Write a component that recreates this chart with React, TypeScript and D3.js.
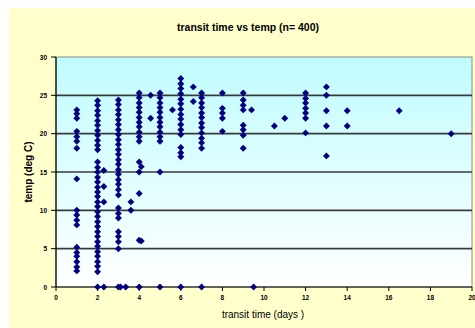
import React from "react";
import * as d3 from "d3";

const chartTitle = "transit time vs temp (n= 400)";
const xLabel = "transit time (days )";
const yLabel = "temp (deg C)";
const xTicks = [0, 2, 4, 6, 8, 10, 12, 14, 16, 18, 20];
const yTicks = [0, 5, 10, 15, 20, 25, 30];

// transit time (days) for each column of points
const columnDays = [1, 2, 2.3, 3, 3.1, 3.35, 3.6, 4, 4.1, 4.55, 5, 5.6, 6, 6.6, 7, 8, 9, 9.4, 9.5, 10.5, 11, 12, 13, 14, 16.5, 19];
// temperatures (deg C) observed in each column
const columnTemps = [
  [23.1, 22.6, 22.0, 20.3, 19.6, 19.0, 18.1, 14.1, 10.0, 9.4, 8.7, 8.1, 5.2, 4.5, 4.0, 3.3, 2.6, 2.1],
  [24.3, 23.7, 23.0, 22.4, 21.7, 21.1, 20.4, 19.8, 19.1, 18.5, 17.9, 16.3, 15.6, 15.0, 14.3, 13.7, 13.0, 12.4, 11.8, 11.1, 10.5, 9.8, 9.2, 8.5, 7.9, 7.2, 6.6, 5.9, 5.3, 4.6, 4.0, 3.3, 2.7, 2.0, 0],
  [15.2, 13.1, 11.1, 0],
  [24.4, 23.8, 23.1, 22.5, 21.8, 21.2, 20.5, 19.9, 19.2, 18.6, 17.9, 17.3, 16.6, 16.0, 15.3, 14.7, 14.0, 13.4, 12.7, 12.0, 10.3, 9.6, 9.0, 7.2, 6.6, 5.9, 5.0, 0],
  [0],
  [0],
  [11.1, 10.0],
  [25.3, 24.7, 24.0, 23.4, 22.8, 22.1, 21.5, 20.9, 20.2, 19.6, 19.0, 16.3, 15.0, 12.2, 6.1, 0],
  [15.7, 6.0],
  [25.0, 22.0],
  [25.3, 24.7, 24.0, 23.4, 22.8, 22.1, 21.5, 20.9, 20.2, 19.6, 19.0, 15.0, 0],
  [23.1],
  [27.2, 26.5, 25.9, 25.2, 24.5, 23.9, 23.2, 22.5, 21.9, 21.2, 20.5, 19.9, 18.2, 17.5, 17.0, 0],
  [26.1, 24.2],
  [25.3, 24.7, 24.0, 23.4, 22.7, 22.1, 21.4, 20.8, 20.1, 19.4, 18.8, 18.1, 0],
  [25.3, 23.3, 22.7, 22.0, 20.3],
  [25.3, 24.4, 23.7, 23.1, 21.1, 20.5, 19.8, 18.1],
  [23.1],
  [0],
  [21.0],
  [22.0],
  [25.3, 24.6, 24.0, 23.3, 22.7, 22.0, 20.1],
  [26.1, 25.0, 23.0, 21.0, 17.1],
  [23.0, 21.0],
  [23.0],
  [20.0],
];

const W = 475;
const H = 328;
const plot = { left: 56, right: 472, top: 57, bottom: 287 };
const font = "'Liberation Sans', Arial, sans-serif";

export default function App() {
  const x = d3.scaleLinear().domain([0, 20]).range([plot.left, plot.right]);
  const y = d3.scaleLinear().domain([0, 30]).range([plot.bottom, plot.top]);
  const diamond = d3.symbol().type(d3.symbolSquare).size(24)() as string;

  const points: { d: number; t: number }[] = [];
  columnDays.forEach((d, i) => columnTemps[i].forEach((t) => points.push({ d, t })));

  return (
    <svg width={W} height={H} style={{ position: "absolute", left: 0, top: 0 }}>
      <defs>
        <linearGradient id="plotbg" x1="0" y1="0" x2="0" y2="1">
          <stop offset="0" stopColor="#bffcff" />
          <stop offset="1" stopColor="#ffffff" />
        </linearGradient>
      </defs>
      <rect x={0} y={0} width={W} height={H} fill="#ffffff" />
      <rect x={9} y={8} width={W - 9} height={H - 8} fill="#ffffcc" />
      <rect
        x={plot.left}
        y={plot.top}
        width={plot.right - plot.left}
        height={plot.bottom - plot.top}
        fill="url(#plotbg)"
        stroke="#8c8c8c"
        strokeWidth={1}
      />
      {yTicks
        .filter((t) => t > 0 && t < 30)
        .map((t) => (
          <line key={"g" + t} x1={plot.left} x2={plot.right} y1={y(t)} y2={y(t)} stroke="#3a3a3a" strokeWidth={1.6} />
        ))}
      <line x1={plot.left} x2={plot.left} y1={plot.top} y2={plot.bottom} stroke="#000" strokeWidth={1.2} />
      <line x1={plot.left} x2={plot.right} y1={plot.bottom} y2={plot.bottom} stroke="#000" strokeWidth={1.2} />
      {yTicks.map((t) => (
        <g key={"y" + t}>
          <line x1={plot.left - 5} x2={plot.left} y1={y(t)} y2={y(t)} stroke="#000" strokeWidth={1} />
          <text x={plot.left - 9} y={y(t) + 2.5} fontSize={6.5} fontWeight="bold" fontFamily={font} textAnchor="end" fill="#000">
            {t}
          </text>
        </g>
      ))}
      {xTicks.map((t) => (
        <g key={"x" + t}>
          <line x1={x(t)} x2={x(t)} y1={plot.bottom} y2={plot.bottom + 4} stroke="#000" strokeWidth={1} />
          <text x={x(t)} y={plot.bottom + 13} fontSize={6.5} fontWeight="bold" fontFamily={font} textAnchor="middle" fill="#000">
            {t}
          </text>
        </g>
      ))}
      {points.map((p, i) => (
        <path
          key={i}
          d={diamond}
          transform={`translate(${x(p.d)},${y(p.t)}) rotate(45)`}
          fill="#000080"
        />
      ))}
      <text x={248} y={31} fontSize={10.5} fontWeight="bold" fontFamily={font} textAnchor="middle" fill="#000">
        {chartTitle}
      </text>
      <text x={263} y={318} fontSize={10} fontFamily={font} textAnchor="middle" fill="#000">
        {xLabel}
      </text>
      <text
        transform={`translate(32,172) rotate(-90)`}
        fontSize={10}
        fontWeight="bold"
        fontFamily={font}
        textAnchor="middle"
        fill="#000"
      >
        {yLabel}
      </text>
    </svg>
  );
}
